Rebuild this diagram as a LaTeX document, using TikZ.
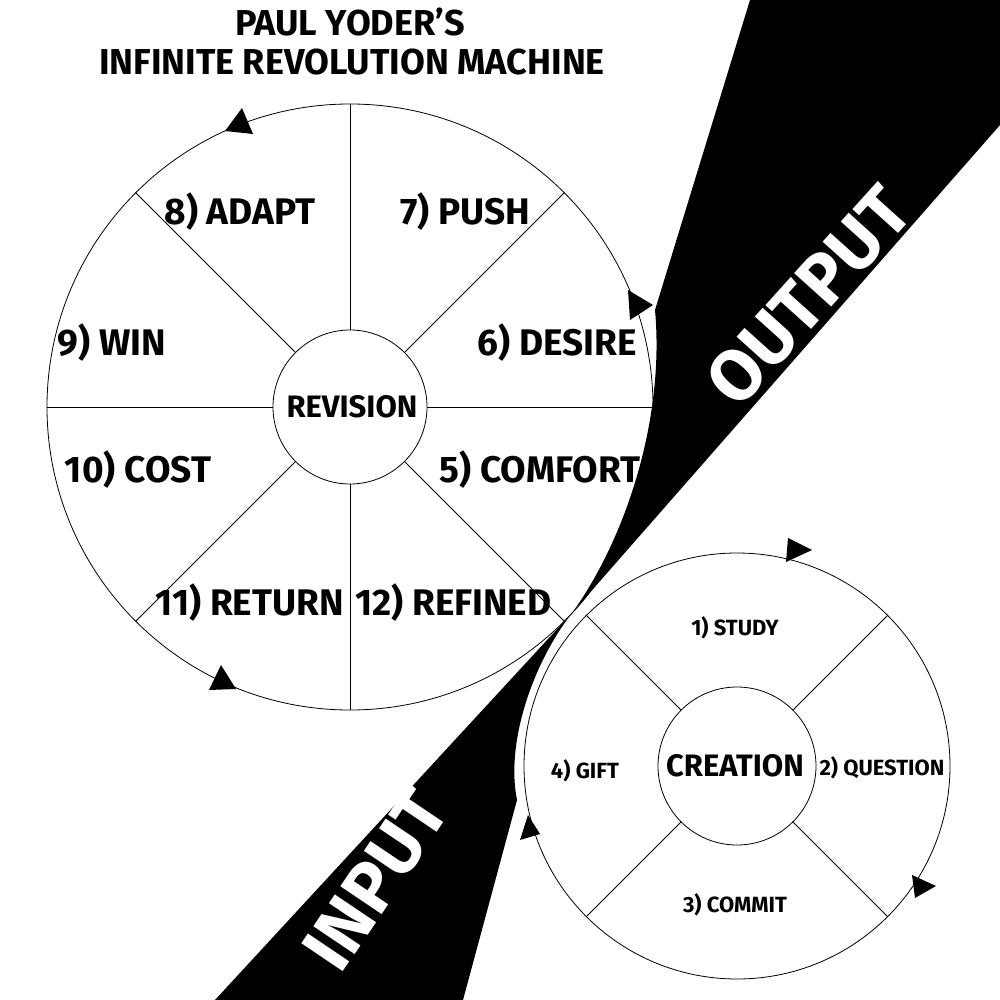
\documentclass[tikz,border=0pt]{standalone}
\usepackage{fontspec}
\setmainfont{Fira Sans}
\usetikzlibrary{calc}
\begin{document}
\begin{tikzpicture}[x=1pt,y=-1pt,
  lbl/.style={font=\bfseries\fontsize{37}{37}\selectfont,inner sep=0pt},
  slbl/.style={font=\bfseries\fontsize{22}{22}\selectfont,inner sep=0pt},
  big/.style={font=\bfseries\fontsize{72}{72}\selectfont,text=white,inner sep=0pt},
  ln/.style={line width=0.8pt},
  tri/.style={fill=black}]
\useasboundingbox (0,0) rectangle (1000,1000);
% black shapes
\fill (750,0) -- (1000,0) -- (1000,125) -- (572,613) .. controls (625,540) and (665,420) .. (655,310) -- cycle;
\fill (215,1000) -- (572,613) .. controls (535,660) and (505,740) .. (517,800) -- (463,1000) -- cycle;
\node[big,rotate=48] (out) at (808,296) {OUTPUT};
\node[big,rotate=56] (inp) at (376,880) {INPUT};
% big circle
\coordinate (C) at (350,407);
\draw[ln] (C) circle[radius=303];
\draw[ln,fill=white] (C) circle[radius=77];
\foreach \a in {0,45,...,315}
  \draw[ln] ($(C)+(\a:77)$) -- ($(C)+(\a:303)$);
% small circle
\coordinate (S) at (737,766);
\draw[ln] (S) circle[radius=213];
\draw[ln] (S) circle[radius=79];
\foreach \a in {45,135,225,315}
  \draw[ln] ($(S)+(\a:79)$) -- ($(S)+(\a:213)$);
% arrow triangles
\fill (242,108) -- (225,131) -- (253,134) -- cycle;
\fill (221,665) -- (209,690) -- (236,689) -- cycle;
\fill (628,290) -- (653,305) -- (630,320) -- cycle;
\fill (788,538) -- (812,550) -- (786,562) -- cycle;
\fill (912,875) -- (936,886) -- (915,898) -- cycle;
\fill (520,840) -- (528,815) -- (540,834) -- cycle;
% title
\node[lbl,font=\bfseries\fontsize{36}{36}\selectfont] (t1) at (350,22) {PAUL YODER’S};
\node[lbl,font=\bfseries\fontsize{36}{36}\selectfont] (t2) at (352,62) {INFINITE REVOLUTION MACHINE};
% labels
\node[lbl] (l8) at (240,212) {8) ADAPT};
\node[lbl] (l7) at (465,212) {7) PUSH};
\node[lbl] (l9) at (112,343) {9) WIN};
\node[lbl] (l6) at (557,343) {6) DESIRE};
\node[lbl,font=\bfseries\fontsize{31}{31}\selectfont] (rev) at (352,407) {REVISION};
\node[lbl] (l10) at (138,470) {10) COST};
\node[lbl] (l5) at (540,470) {5) COMFORT};
\node[lbl,anchor=east] (l11) at (344,603) {11) RETURN};
\node[lbl,anchor=west] (l12) at (355,603) {12) REFINED};
\node[slbl] (s1) at (735,628) {1) STUDY};
\node[slbl] (s2) at (882,768) {2) QUESTION};
\node[slbl] (s3) at (735,905) {3) COMMIT};
\node[slbl] (s4) at (585,771) {4) GIFT};
\node[lbl,font=\bfseries\fontsize{31}{31}\selectfont] (cre) at (735,766) {CREATION};
\end{tikzpicture}
\end{document}
